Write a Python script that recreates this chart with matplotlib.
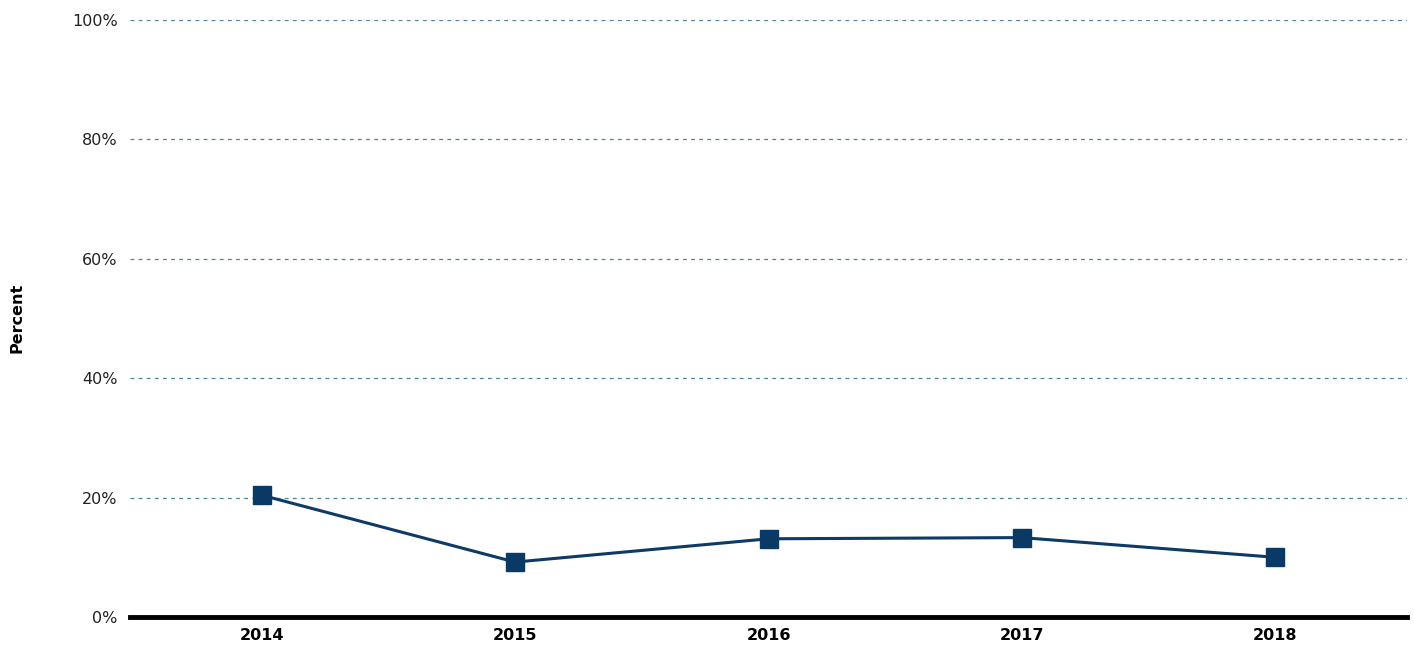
import matplotlib
matplotlib.use("Agg")
import matplotlib.pyplot as plt

years = ["2014", "2015", "2016", "2017", "2018"]
percent = [20.4, 9.2, 13.1, 13.3, 10.0]
yticks = [0, 20, 40, 60, 80, 100]
ytick_labels = ["0%", "20%", "40%", "60%", "80%", "100%"]

fig = plt.figure(figsize=(14.14, 6.47), dpi=100)
ax = fig.add_axes([130 / 1414, 30 / 647, 1277 / 1414, 597 / 647])

x = list(range(len(years)))
ax.plot(x, percent, color="#0d3a66", linewidth=2.2, marker="s",
        markersize=13, markerfacecolor="#0b3966", markeredgecolor="#0b3966",
        zorder=3)

for y in yticks[1:]:
    ax.axhline(y, color="#4d8493", linestyle=(0, (3, 3.5)), linewidth=0.9, zorder=1)

ax.set_xlim(-0.52, 4.52)
ax.set_ylim(0, 100)
ax.set_yticks(yticks)
ax.set_yticklabels(ytick_labels, fontsize=11.5, color="#222222")
ax.set_xticks(x)
ax.set_xticklabels(years, fontsize=11.5, fontweight="bold")
ax.tick_params(axis="both", length=0)
ax.tick_params(axis="y", pad=9)
ax.tick_params(axis="x", pad=8)

for side in ["top", "right", "left"]:
    ax.spines[side].set_visible(False)
ax.spines["bottom"].set_linewidth(3.5)
ax.spines["bottom"].set_color("black")

fig.text(17 / 1414, 1 - 318 / 647, "Percent", rotation=90, fontsize=11.5,
         fontweight="bold", ha="center", va="center")

fig.savefig("out.png", dpi=100)
